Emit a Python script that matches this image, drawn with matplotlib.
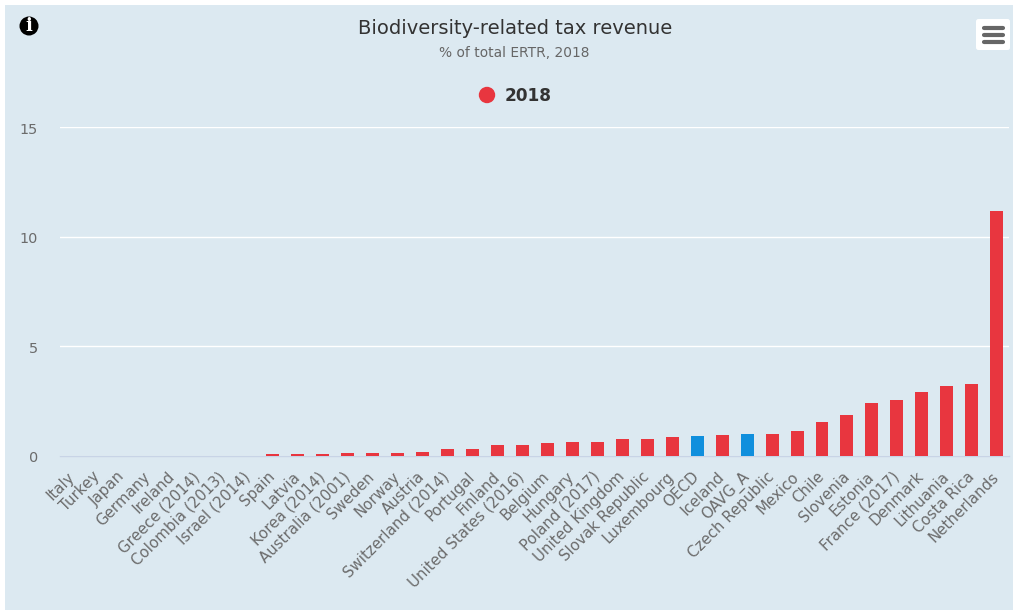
import matplotlib
matplotlib.use("Agg")
import matplotlib.pyplot as plt
from matplotlib.patches import Rectangle, FancyBboxPatch, Circle
from matplotlib.transforms import ScaledTranslation

countries = ["Italy", "Turkey", "Japan", "Germany", "Ireland", "Greece (2014)", "Colombia (2013)",
             "Israel (2014)", "Spain", "Latvia", "Korea (2014)", "Australia (2001)", "Sweden", "Norway",
             "Austria", "Switzerland (2014)", "Portugal", "Finland", "United States (2016)", "Belgium",
             "Hungary", "Poland (2017)", "United Kingdom", "Slovak Republic", "Luxembourg", "OECD",
             "Iceland", "OAVG_A", "Czech Republic", "Mexico", "Chile", "Slovenia", "Estonia",
             "France (2017)", "Denmark", "Lithuania", "Costa Rica", "Netherlands"]
values = [0, 0, 0, 0, 0, 0, 0, 0, 0.1, 0.1, 0.1, 0.15, 0.15, 0.15, 0.2, 0.33, 0.33, 0.5, 0.5, 0.6,
          0.65, 0.65, 0.78, 0.78, 0.85, 0.93, 0.97, 1.02, 1.02, 1.16, 1.56, 1.85, 2.44, 2.57, 2.9,
          3.2, 3.3, 11.2]
highlighted = ["OECD", "OAVG_A"]
yticks = [0, 5, 10, 15]

W, H = 1013, 610
RED, BLUE, PANEL = "#e8363f", "#0f8fdd", "#dce9f1"
LABEL_GREY = "#6b6b6b"
fig = plt.figure(figsize=(W / 100, H / 100), dpi=100, facecolor="white")

def px_box(x0, y0, x1, y1):
    return [x0 / W, 1 - y1 / H, (x1 - x0) / W, (y1 - y0) / H]

fig.add_artist(Rectangle((5 / W, 0), (W - 5) / W, (H - 5) / H, transform=fig.transFigure,
                         facecolor=PANEL, edgecolor="none", zorder=-5))

ax = fig.add_axes(px_box(60.3, 127.3, 1009.3, 456))
ax.patch.set_alpha(0)
colors = [BLUE if c in highlighted else RED for c in countries]
ax.bar(range(len(countries)), values, width=0.52, color=colors, zorder=3)
ax.set_xlim(-0.5, len(countries) - 0.5)
ax.set_ylim(0, 15)
ax.set_yticks(yticks)
ax.yaxis.grid(True, color="white", linewidth=1.0, zorder=1)
ax.set_axisbelow(True)
for s in ("top", "right", "left"):
    ax.spines[s].set_visible(False)
ax.spines["bottom"].set_color("#c8d4e6")
ax.spines["bottom"].set_linewidth(1)
ax.spines["bottom"].set_zorder(2)
ax.tick_params(axis="y", length=0, labelsize=10.4, labelcolor=LABEL_GREY, pad=16)
ax.tick_params(axis="x", length=0, pad=5)
ax.set_xticks(range(len(countries)))
ax.set_xticklabels(countries, rotation=45, ha="right", rotation_mode="anchor",
                   fontsize=10.8, color=LABEL_GREY)

# nudge the axis labels away from their default anchor positions
x_shift = ScaledTranslation(-5.5 / 100, -6 / 100, fig.dpi_scale_trans)
for lab in ax.get_xticklabels():
    lab.set_transform(lab.get_transform() + x_shift)
y_shift = ScaledTranslation(0, -1 / 100, fig.dpi_scale_trans)
for lab in ax.get_yticklabels():
    lab.set_transform(lab.get_transform() + y_shift)

fig.text(515 / W, 1 - 28 / H, "Biodiversity-related tax revenue", ha="center", va="center",
         fontsize=14, color="#333333")
fig.text(514.5 / W, 1 - 53 / H, "% of total ERTR, 2018", ha="center", va="center",
         fontsize=9.9, color="#666666")

# legend entry
overlay = fig.add_axes([0, 0, 1, 1], zorder=5)
overlay.set_xlim(0, W)
overlay.set_ylim(H, 0)
overlay.axis("off")
overlay.add_patch(Circle((487, 95), 8.2, color=RED, lw=0))
overlay.text(505, 96, "2018", ha="left", va="center", fontsize=12.2, fontweight="bold", color="#333333")

# info badge
overlay.add_patch(Circle((29, 26), 9.5, color="black", lw=0))
overlay.text(29, 26, "i", ha="center", va="center", fontsize=13, fontweight="bold",
             family="DejaVu Serif", color="white")

# menu button
overlay.add_patch(FancyBboxPatch((976, 19), 34, 31, boxstyle="round,pad=0,rounding_size=2.5",
                                 facecolor="white", edgecolor="none"))
for y in (28, 34.7, 41.7):
    overlay.plot([984, 1003], [y, y], color="#666666", lw=3.0, solid_capstyle="round")

fig.savefig("out.png", dpi=100, facecolor=fig.get_facecolor())
